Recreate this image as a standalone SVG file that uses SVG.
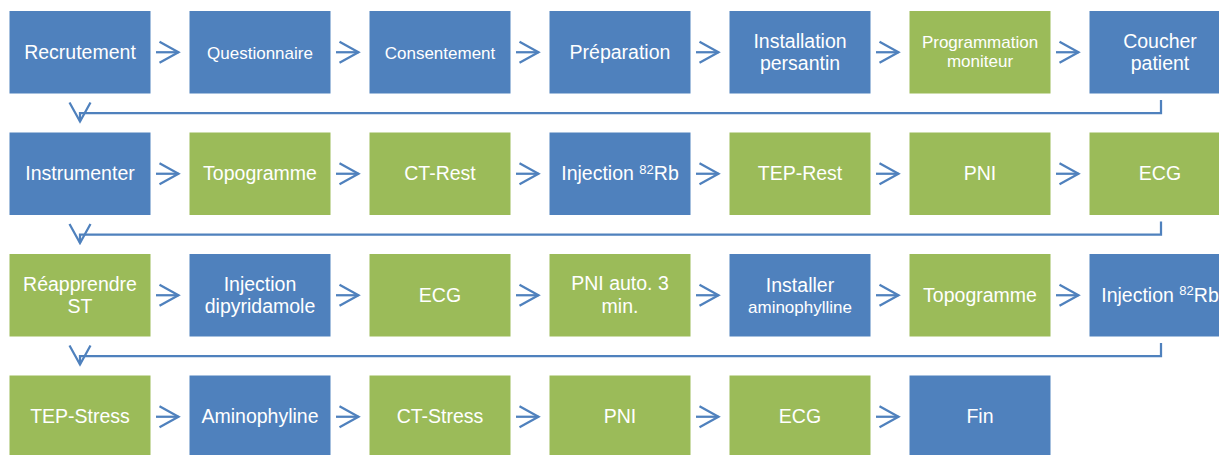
<svg xmlns="http://www.w3.org/2000/svg" width="1219" height="455" viewBox="0 0 1219 455">
<style>
.b{fill:#4F81BD}
.g{fill:#9BBB59}
text{font-family:"Liberation Sans",Arial,sans-serif;fill:#ffffff;text-anchor:middle}
.L{font-size:19.5px}
.S{font-size:17px}
.sup{font-size:13px}
.c{fill:none;stroke:#4F81BD;stroke-width:2.25;marker-end:url(#ah)}
</style>
<defs>
<marker id="ah" markerUnits="userSpaceOnUse" viewBox="-22 -13 24 26" refX="0" refY="0" markerWidth="24" markerHeight="26" orient="auto">
<path d="M-19,-10.5 L0,0 L-19,10.5" fill="none" stroke="#4F81BD" stroke-width="2.25"/>
</marker>
</defs>
<rect width="1219" height="455" fill="#ffffff"/>

<g id="n1"><rect class="b" x="9.5" y="11" width="141" height="82.5"/><text class="L" x="80" y="59">Recrutement</text></g>
<g id="n2"><rect class="b" x="189.5" y="11" width="141" height="82.5"/><text class="S" x="260" y="58.5">Questionnaire</text></g>
<g id="n3"><rect class="b" x="369.5" y="11" width="141" height="82.5"/><text class="S" x="440" y="58.5">Consentement</text></g>
<g id="n4"><rect class="b" x="549.5" y="11" width="141" height="82.5"/><text class="L" x="620" y="59">Préparation</text></g>
<g id="n5"><rect class="b" x="729.5" y="11" width="141" height="82.5"/><text class="L" x="800" y="47.75">Installation</text><text class="L" x="800" y="70.25">persantin</text></g>
<g id="n6"><rect class="g" x="909.5" y="11" width="141" height="82.5"/><text class="S" x="980" y="48.25">Programmation</text><text class="S" x="980" y="67.25">moniteur</text></g>
<g id="n7"><rect class="b" x="1089.5" y="11" width="141" height="82.5"/><text class="L" x="1160" y="47.75">Coucher</text><text class="L" x="1160" y="70.25">patient</text></g>

<g id="n8"><rect class="b" x="9.5" y="132.5" width="141" height="82.5"/><text class="L" x="80" y="180.25">Instrumenter</text></g>
<g id="n9"><rect class="g" x="189.5" y="132.5" width="141" height="82.5"/><text class="L" x="260" y="180.25">Topogramme</text></g>
<g id="n10"><rect class="g" x="369.5" y="132.5" width="141" height="82.5"/><text class="L" x="440" y="180.25">CT-Rest</text></g>
<g id="n11"><rect class="b" x="549.5" y="132.5" width="141" height="82.5"/><text class="L" x="620" y="180.25">Injection <tspan class="sup" dy="-6.5">82</tspan><tspan dy="6.5">Rb</tspan></text></g>
<g id="n12"><rect class="g" x="729.5" y="132.5" width="141" height="82.5"/><text class="L" x="800" y="180.25">TEP-Rest</text></g>
<g id="n13"><rect class="g" x="909.5" y="132.5" width="141" height="82.5"/><text class="L" x="980" y="180.25">PNI</text></g>
<g id="n14"><rect class="g" x="1089.5" y="132.5" width="141" height="82.5"/><text class="L" x="1160" y="180.25">ECG</text></g>

<g id="n15"><rect class="g" x="9.5" y="254" width="141" height="82.5"/><text class="L" x="80" y="290.75">Réapprendre</text><text class="L" x="80" y="313.25">ST</text></g>
<g id="n16"><rect class="b" x="189.5" y="254" width="141" height="82.5"/><text class="L" x="260" y="290.75">Injection</text><text class="L" x="260" y="313.25">dipyridamole</text></g>
<g id="n17"><rect class="g" x="369.5" y="254" width="141" height="82.5"/><text class="L" x="440" y="301.75">ECG</text></g>
<g id="n18"><rect class="g" x="549.5" y="254" width="141" height="82.5"/><text class="L" x="620" y="290.25">PNI auto. 3</text><text class="L" x="620" y="313.25">min.</text></g>
<g id="n19"><rect class="b" x="729.5" y="254" width="141" height="82.5"/><text class="L" x="800" y="291.75">Installer</text><text class="S" x="800" y="312.75">aminophylline</text></g>
<g id="n20"><rect class="g" x="909.5" y="254" width="141" height="82.5"/><text class="L" x="980" y="301.75">Topogramme</text></g>
<g id="n21"><rect class="b" x="1089.5" y="254" width="141" height="82.5"/><text class="L" x="1160" y="301.75">Injection <tspan class="sup" dy="-6.5">82</tspan><tspan dy="6.5">Rb</tspan></text></g>

<g id="n22"><rect class="g" x="9.5" y="375.5" width="141" height="82.5"/><text class="L" x="80" y="423.25">TEP-Stress</text></g>
<g id="n23"><rect class="b" x="189.5" y="375.5" width="141" height="82.5"/><text class="L" x="260" y="423.25">Aminophyline</text></g>
<g id="n24"><rect class="g" x="369.5" y="375.5" width="141" height="82.5"/><text class="L" x="440" y="423.25">CT-Stress</text></g>
<g id="n25"><rect class="g" x="549.5" y="375.5" width="141" height="82.5"/><text class="L" x="620" y="423.25">PNI</text></g>
<g id="n26"><rect class="g" x="729.5" y="375.5" width="141" height="82.5"/><text class="L" x="800" y="423.25">ECG</text></g>
<g id="n27"><rect class="b" x="909.5" y="375.5" width="141" height="82.5"/><text class="L" x="980" y="423.25">Fin</text></g>

<g id="connectors">
<line class="c" x1="156" y1="52.25" x2="178.5" y2="52.25"/>
<line class="c" x1="336" y1="52.25" x2="358.5" y2="52.25"/>
<line class="c" x1="516" y1="52.25" x2="538.5" y2="52.25"/>
<line class="c" x1="696" y1="52.25" x2="718.5" y2="52.25"/>
<line class="c" x1="876" y1="52.25" x2="898.5" y2="52.25"/>
<line class="c" x1="1056" y1="52.25" x2="1078.5" y2="52.25"/>
<polyline class="c" points="1161,100 1161,113 80,113 80,121.5"/>

<line class="c" x1="156" y1="173.75" x2="178.5" y2="173.75"/>
<line class="c" x1="336" y1="173.75" x2="358.5" y2="173.75"/>
<line class="c" x1="516" y1="173.75" x2="538.5" y2="173.75"/>
<line class="c" x1="696" y1="173.75" x2="718.5" y2="173.75"/>
<line class="c" x1="876" y1="173.75" x2="898.5" y2="173.75"/>
<line class="c" x1="1056" y1="173.75" x2="1078.5" y2="173.75"/>
<polyline class="c" points="1161,221.5 1161,234.5 80,234.5 80,243"/>

<line class="c" x1="156" y1="295.25" x2="178.5" y2="295.25"/>
<line class="c" x1="336" y1="295.25" x2="358.5" y2="295.25"/>
<line class="c" x1="516" y1="295.25" x2="538.5" y2="295.25"/>
<line class="c" x1="696" y1="295.25" x2="718.5" y2="295.25"/>
<line class="c" x1="876" y1="295.25" x2="898.5" y2="295.25"/>
<line class="c" x1="1056" y1="295.25" x2="1078.5" y2="295.25"/>
<polyline class="c" points="1161,343 1161,356 80,356 80,364.5"/>

<line class="c" x1="156" y1="416.75" x2="178.5" y2="416.75"/>
<line class="c" x1="336" y1="416.75" x2="358.5" y2="416.75"/>
<line class="c" x1="516" y1="416.75" x2="538.5" y2="416.75"/>
<line class="c" x1="696" y1="416.75" x2="718.5" y2="416.75"/>
<line class="c" x1="876" y1="416.75" x2="898.5" y2="416.75"/>
</g>
</svg>
